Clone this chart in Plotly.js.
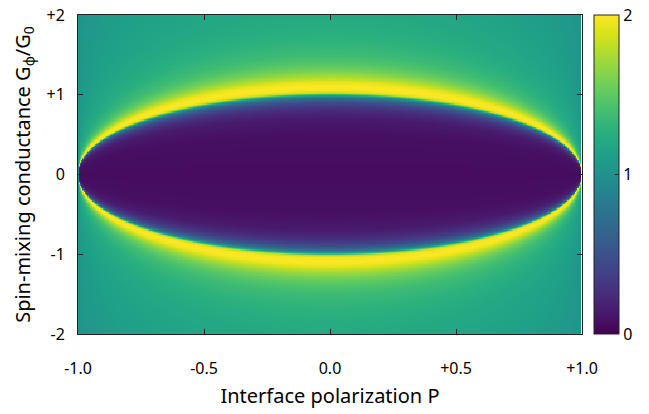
<!DOCTYPE html>
<html><head><meta charset="utf-8">
<script src="https://cdn.plot.ly/plotly-3.0.1.min.js"></script>
<style>html,body{margin:0;padding:0;background:#fff}#chart{width:649px;height:414px}</style>
</head><body><div id="chart"></div>
<script>
// Conductance read along the P = 0 column of the picture, as a function of
// the normalised spin-mixing coordinate t = |G_phi| / (G0 * sqrt(1 - P^2)).
const profileT     = [0, 0.5, 0.7, 0.8, 0.85, 0.9, 0.95, 0.98, 1.0, 1.02, 1.05, 1.1, 1.15, 1.2, 1.25, 1.3, 1.4, 1.5, 1.7, 2.0, 2.5, 3.5, 5, 10, 100];
const profileValue = [0.06, 0.08, 0.14, 0.24, 0.33, 0.46, 0.7, 1.0, 1.35, 1.8, 1.97, 2.0, 1.94, 1.8, 1.68, 1.58, 1.45, 1.37, 1.28, 1.21, 1.16, 1.11, 1.07, 1.04, 1.02];

// Axis sample grids
const pStart = -1, pEnd = 1, pCount = 401;
const gStart = -2, gEnd = 2, gCount = 241;

// Tick labels
const xTickVals = [-1, -0.5, 0, 0.5, 1];
const xTickText = ['-1.0', '-0.5', '0.0', '+0.5', '+1.0'];
const yTickVals = [-2, -1, 0, 1, 2];
const yTickText = ['-2', '-1', '0', '+1', '+2'];
const cbTickVals = [0, 1, 2];
const cbTickText = ['0', '1', '2'];

function lookup(t) {
  if (!isFinite(t) || t >= profileT[profileT.length - 1]) return profileValue[profileValue.length - 1];
  for (let i = 1; i < profileT.length; i++) {
    if (t <= profileT[i]) {
      const f = (t - profileT[i - 1]) / (profileT[i] - profileT[i - 1]);
      return profileValue[i - 1] + f * (profileValue[i] - profileValue[i - 1]);
    }
  }
  return profileValue[profileValue.length - 1];
}

const pAxis = [], gAxis = [];
for (let i = 0; i < pCount; i++) pAxis.push(+(pStart + i * (pEnd - pStart) / (pCount - 1)).toFixed(4));
for (let j = 0; j < gCount; j++) gAxis.push(+(gStart + j * (gEnd - gStart) / (gCount - 1)).toFixed(4));

const z = gAxis.map(g => pAxis.map(p => {
  if (p >= 1) return null;           // undefined column at P = +1
  const s = Math.sqrt(Math.max(1 - p * p, 1e-12));
  return lookup(Math.abs(g) / s);
}));

const font = {family: 'Noto Sans, Open Sans, sans-serif', color: '#000'};

Plotly.newPlot('chart', [{
  type: 'heatmap',
  x: pAxis, y: gAxis, z: z,
  colorscale: 'Viridis', zmin: 0, zmax: 2,
  hoverongaps: false,
  colorbar: {
    x: 1.0236, xanchor: 'left', xref: 'paper',
    y: 0.5, yanchor: 'middle', len: 1, lenmode: 'fraction',
    thickness: 25, thicknessmode: 'pixels',
    outlinewidth: 1, outlinecolor: '#222',
    tickvals: cbTickVals, ticktext: cbTickText,
    ticks: 'inside', ticklen: 4, tickcolor: '#222',
    tickfont: {family: font.family, size: 16, color: '#000'},
    xpad: 0, ypad: 0
  }
}], {
  width: 649, height: 414,
  margin: {l: 78, r: 62, t: 15, b: 80},
  paper_bgcolor: '#fff', plot_bgcolor: '#fff',
  font: font,
  xaxis: {
    range: [-1, 1], tickvals: xTickVals, ticktext: xTickText,
    ticks: 'inside', ticklen: 5, tickcolor: '#222', mirror: 'ticks',
    showline: true, linecolor: '#222', linewidth: 1,
    showgrid: false, zeroline: false,
    tickfont: {size: 16}, ticklabelstandoff: 20,
    title: {text: 'Interface polarization P', font: {size: 20}, standoff: 10}
  },
  yaxis: {
    range: [-2, 2], tickvals: yTickVals, ticktext: yTickText,
    ticks: 'inside', ticklen: 5, tickcolor: '#222', mirror: 'ticks',
    showline: true, linecolor: '#222', linewidth: 1,
    showgrid: false, zeroline: false,
    tickfont: {size: 16}, ticklabelstandoff: 9,
    title: {text: 'Spin-mixing conductance G<sub>φ</sub>/G<sub>0</sub>', font: {size: 20}, standoff: 10}
  }
}, {displayModeBar: false, staticPlot: true});
</script></body></html>
